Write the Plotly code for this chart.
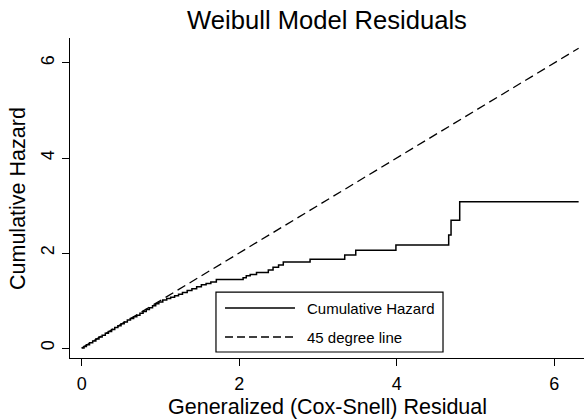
import plotly.graph_objects as go

# Nelson-Aalen cumulative hazard of the Cox-Snell residuals (step points)
cs_resid = [0.00, 0.03, 0.06, 0.10, 0.14, 0.18, 0.22, 0.26, 0.30, 0.34, 0.38,
            0.42, 0.46, 0.50, 0.54, 0.58, 0.62, 0.66, 0.70, 0.74, 0.78, 0.82,
            0.86, 0.90, 0.94, 0.98, 1.03, 1.08, 1.13, 1.18, 1.23, 1.28, 1.34,
            1.40, 1.46, 1.52, 1.58, 1.64, 1.71, 2.05, 2.09, 2.14, 2.22, 2.37,
            2.43, 2.50, 2.56, 2.90, 3.34, 3.48, 3.99, 4.66, 4.69, 4.80, 6.31]
cum_hazard = [0.00, 0.03, 0.07, 0.11, 0.15, 0.19, 0.23, 0.27, 0.31, 0.35, 0.39,
              0.43, 0.47, 0.51, 0.55, 0.59, 0.62, 0.66, 0.69, 0.73, 0.77, 0.81,
              0.85, 0.89, 0.93, 0.97, 1.01, 1.04, 1.07, 1.10, 1.13, 1.17, 1.21,
              1.25, 1.29, 1.33, 1.36, 1.39, 1.44, 1.48, 1.52, 1.55, 1.59, 1.64,
              1.70, 1.75, 1.81, 1.87, 1.96, 2.06, 2.17, 2.38, 2.69, 3.08, 3.08]

# reference line y = x over the residual range
ref_x = [0.0, 6.31]
ref_y = [0.0, 6.31]

tick_vals = [0, 2, 4, 6]
tick_text = ["0", "2", "4", "6"]

FONT = "Liberation Sans, Arial, Helvetica, sans-serif"
DASH = "9px,5px"

fig = go.Figure()
fig.add_trace(go.Scatter(
    x=cs_resid, y=cum_hazard, mode="lines", line_shape="hv",
    line=dict(color="black", width=1.5), name="Cumulative Hazard",
    showlegend=False,
))
fig.add_trace(go.Scatter(
    x=ref_x, y=ref_y, mode="lines",
    line=dict(color="black", width=1.3, dash=DASH), name="45 degree line",
    showlegend=False,
))

# legend box drawn in paper coordinates
legend_items = [("Cumulative Hazard", "solid", 0.15625),
                ("45 degree line", "8px,4px", 0.0656)]
shapes = [dict(type="rect", xref="paper", yref="paper",
               x0=0.284, x1=0.7257, y0=0.01875, y1=0.206,
               line=dict(color="black", width=1.2), fillcolor="white", layer="above")]
annotations = []
for label, dash, yy in legend_items:
    shapes.append(dict(type="line", xref="paper", yref="paper",
                       x0=0.3016, x1=0.4377, y0=yy, y1=yy,
                       line=dict(color="black", width=1.3, dash=dash), layer="above"))
    annotations.append(dict(xref="paper", yref="paper", x=0.4572, y=yy,
                            text=label, showarrow=False, xanchor="left",
                            yanchor="middle", font=dict(size=15, color="black", family=FONT)))

# axis titles
annotations.append(dict(xref="paper", yref="paper", x=0.5, y=-0.153,
                        text="Generalized (Cox-Snell) Residual", showarrow=False,
                        xanchor="center", yanchor="middle",
                        font=dict(size=21.5, color="black", family=FONT)))
annotations.append(dict(xref="paper", yref="paper", x=-0.1012, y=0.5,
                        text="Cumulative Hazard", showarrow=False, textangle=-90,
                        xanchor="center", yanchor="middle",
                        font=dict(size=21.5, color="black", family=FONT)))

fig.update_layout(
    width=584, height=419,
    margin=dict(l=70, r=0, t=38, b=61),
    paper_bgcolor="white", plot_bgcolor="white",
    font=dict(family=FONT, color="black"),
    title=dict(text="Weibull Model Residuals", x=327 / 584, xref="container",
               xanchor="center", y=1 - 20 / 419, yref="container", yanchor="middle",
               font=dict(size=25.6, color="black", family=FONT)),
    shapes=shapes, annotations=annotations,
)
fig.update_xaxes(
    range=[-0.148, 6.378], tickvals=tick_vals, ticktext=tick_text,
    showgrid=False, zeroline=False, showline=True, linecolor="black", linewidth=1.2,
    ticks="outside", ticklen=7, tickwidth=1.2, tickcolor="black",
    tickfont=dict(size=18), ticklabelstandoff=2,
)
fig.update_yaxes(
    range=[-0.21, 6.526], tickvals=tick_vals, ticktext=tick_text, tickangle=-90,
    showgrid=False, zeroline=False, showline=True, linecolor="black", linewidth=1.2,
    ticks="outside", ticklen=7, tickwidth=1.2, tickcolor="black",
    tickfont=dict(size=18), ticklabelstandoff=1,
)

fig.write_html("out.html")
